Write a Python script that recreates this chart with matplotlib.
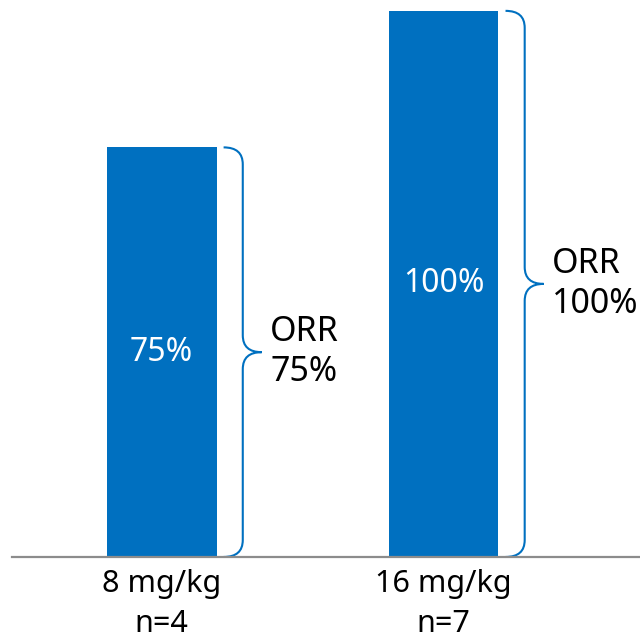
import matplotlib.pyplot as plt
from matplotlib.path import Path
from matplotlib.patches import PathPatch

plt.rcParams['font.family'] = ['Noto Sans', 'DejaVu Sans']

doses = ['8 mg/kg', '16 mg/kg']
n_patients = [4, 7]
orr = [75, 100]

blue = '#0070C0'
bar_w = 0.39

fig = plt.figure(figsize=(6.4, 6.38), dpi=100)
ax = fig.add_axes([0.019, 0.127, 0.981, 0.856])

x = list(range(len(doses)))
ax.bar(x, orr, width=bar_w, color=blue)

ax.set_xlim(-0.530, 1.697)
ax.set_ylim(0, 100)
ax.set_yticks([])
for side in ['top', 'left', 'right']:
    ax.spines[side].set_visible(False)
ax.spines['bottom'].set_color('#8c8c8c')
ax.spines['bottom'].set_linewidth(1.6)

ax.set_xticks(x)
ax.set_xticklabels([f'{d}\nn={n}' for d, n in zip(doses, n_patients)],
                   fontsize=22, linespacing=1.4)
ax.tick_params(axis='x', length=0, pad=9)


def brace(xc, top, bottom=0.0):
    # curly bracket to the right of a bar, from its top down to the baseline
    xs = xc + 0.22
    xv = xc + 0.288
    xt = xc + 0.355
    r = 3.1
    mid = (top + bottom) / 2
    verts = [(xs, top), (xv, top), (xv, top - r),
             (xv, mid + r), (xv, mid), (xt, mid),
             (xv, mid), (xv, mid - r),
             (xv, bottom + r), (xv, bottom), (xs, bottom)]
    codes = [Path.MOVETO, Path.CURVE3, Path.CURVE3,
             Path.LINETO, Path.CURVE3, Path.CURVE3,
             Path.CURVE3, Path.CURVE3,
             Path.LINETO, Path.CURVE3, Path.CURVE3]
    ax.add_patch(PathPatch(Path(verts, codes), fill=False, edgecolor=blue,
                           linewidth=1.5, clip_on=False))
    return xt, mid


for xi, v in zip(x, orr):
    ax.text(xi, v / 2, f'{v}%', color='white', fontsize=23,
            ha='center', va='center')
    xt, mid = brace(xi, v)
    ax.text(xt + 0.03, mid, f'ORR\n{v}%', fontsize=24.5, ha='left',
            va='center', linespacing=1.25, clip_on=False)

fig.savefig('out.png', dpi=100)
